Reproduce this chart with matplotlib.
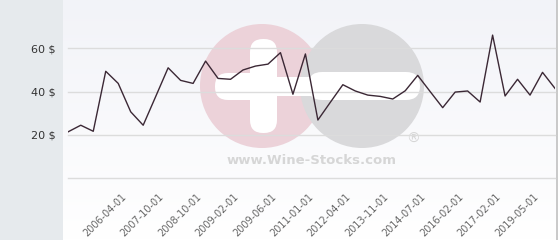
import numpy as np
import matplotlib
matplotlib.use("Agg")
from matplotlib import pyplot as plt
from matplotlib import patches
from matplotlib import transforms

# price per point, equally spaced dates
prices = [21.5, 24.5, 21.7, 49.4, 43.8, 30.7, 24.5, 37.7, 51.0, 45.2,
          43.8, 54.1, 46.1, 45.7, 50.0, 51.8, 52.7, 58.0, 38.8, 57.4,
          26.9, 35.1, 43.2, 40.3, 38.4, 37.8, 36.6, 40.4, 47.5, 40.0,
          32.6, 39.8, 40.3, 35.2, 66.1, 38.0, 45.7, 38.4, 48.9, 41.5]
tick_labels = ["2006-04-01", "2007-10-01", "2008-10-01", "2009-02-01",
               "2009-06-01", "2011-01-01", "2012-04-01", "2013-11-01",
               "2014-07-01", "2016-02-01", "2017-02-01", "2019-05-01"]
y_ticks = [0, 20, 40, 60]
y_labels = ["", "20 $", "40 $", "60 $"]

W, H = 560, 240
fig = plt.figure(figsize=(W / 100, H / 100), dpi=100)
fig.patch.set_facecolor("white")

# background layer in pixel coordinates
bg = fig.add_axes([0, 0, 1, 1], zorder=0)
bg.set_xlim(0, W)
bg.set_ylim(H, 0)
bg.axis("off")
bg.add_patch(patches.Rectangle((0, 0), 63, H, color="#e6eaed", lw=0))
grad = np.linspace(0, 1, 100).reshape(-1, 1)
top = np.array([242, 243, 248]) / 255
bot = np.array([255, 255, 255]) / 255
img = top + (bot - top) * grad[..., None]
bg.imshow(img, extent=(63, 557, H, 0), aspect="auto", zorder=0)
bg.plot([557, 557], [0, H], color="#c0c0c0", lw=1.2, zorder=1)

# watermark
pink = "#ecd2d9"
grey = "#d9d9db"
bg.add_patch(patches.Circle((262, 86), 62, color=pink, lw=0, zorder=2))
bg.add_patch(patches.Circle((362, 86), 62, color=grey, lw=0, zorder=3))
bg.add_patch(patches.FancyBboxPatch((229, 77), 180, 19,
                                    boxstyle="round,pad=0,rounding_size=9.5",
                                    color="white", lw=0, zorder=4))
bg.add_patch(patches.FancyBboxPatch((250, 39), 27, 94,
                                    boxstyle="round,pad=0,rounding_size=13",
                                    color="white", lw=0, zorder=4))
bg.add_patch(patches.FancyBboxPatch((215, 73), 60, 27,
                                    boxstyle="round,pad=0,rounding_size=13",
                                    color="white", lw=0, zorder=4))
bg.add_patch(patches.FancyBboxPatch((308, 72), 112, 28,
                                    boxstyle="round,pad=0,rounding_size=14",
                                    color="white", lw=0, zorder=4))
bg.text(312, 161, "www.Wine-Stocks.com", ha="center", va="center",
        fontsize=9.5, fontweight="bold", color="#d6d6d6", zorder=5)
bg.text(413, 139, "®", ha="center", va="center",
        fontsize=10, color="#d6d6d6", zorder=5)

# main chart
ax = fig.add_axes([68.3 / W, (H - 178.3) / H, (555 - 68.3) / W, 178.3 / H],
                  zorder=1)
ax.set_facecolor("none")
x = np.arange(len(prices))
ax.plot(x, prices, color="#3b2835", lw=1.0, zorder=3)
ax.set_xlim(0, len(prices) - 1)
ax.set_ylim(0, 178.3 / (43.33 / 20))

for s in ax.spines.values():
    s.set_visible(False)
ax.set_yticks(y_ticks)
ax.set_yticklabels(y_labels)
ax.yaxis.grid(True, color="#dcdcdc", lw=1)
for gl in ax.get_ygridlines():
    gl.set_clip_on(False)
ax.tick_params(axis="y", length=0, pad=9, labelsize=8, labelcolor="#333333")

tick_idx = np.arange(5, len(prices), 3)[:len(tick_labels)]
ax.set_xticks(tick_idx)
ax.set_xticklabels(tick_labels, rotation=45, ha="right", va="center",
                   rotation_mode="anchor")
ax.tick_params(axis="x", length=0, pad=12, labelsize=7, labelcolor="#666666")
shift = transforms.ScaledTranslation(-6 / 100, 0, fig.dpi_scale_trans)
for lab in ax.get_xticklabels():
    lab.set_transform(lab.get_transform() + shift)

fig.savefig("out.png", dpi=100)
